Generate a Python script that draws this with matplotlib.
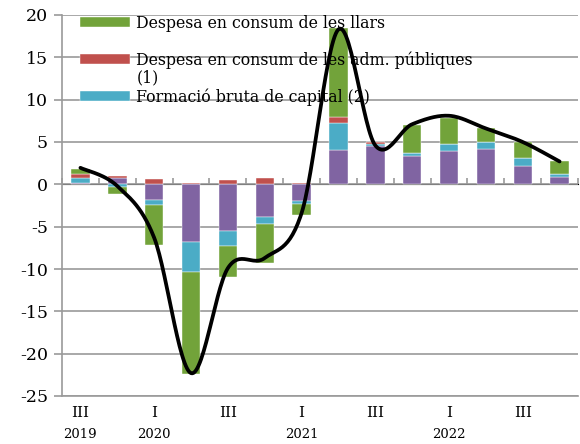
import matplotlib
matplotlib.use("Agg")
import matplotlib.pyplot as plt
import numpy as np

# quarters 2019 III .. 2022 IV
quarter_labels = ["III", "", "I", "", "III", "", "I", "", "III", "", "I", "", "III", ""]
year_labels = {0: "2019", 2: "2020", 6: "2021", 10: "2022"}

# contributions (p.p.)
purple = [0.2, 0.75, -1.8, -6.8, -5.55, -3.8, -2.0, 4.0, 4.5, 3.4, 3.95, 4.15, 2.15, 0.85]
blue = [0.6, -0.35, -0.7, -3.5, -1.7, -0.85, -0.3, 3.2, 0.3, 0.35, 0.8, 0.8, 1.0, 0.4]
red = [0.43, 0.2, 0.6, 0.15, 0.55, 0.8, 0.2, 0.75, 0.2, 0.0, 0.0, 0.0, 0.0, 0.0]
green = [0.6, -0.85, -4.7, -12.1, -3.65, -4.65, -1.3, 10.55, 0.0, 3.25, 3.05, 1.65, 1.8, 1.5]
gdp = [1.95, -0.2, -6.3, -22.3, -9.9, -8.7, -3.4, 18.3, 4.6, 7.1, 8.1, 6.6, 5.0, 2.7]

series = [
    (purple, "#8064A2", None),
    (blue, "#4BACC6", "Formació bruta de capital (2)"),
    (red, "#C0504D", "Despesa en consum de les adm. públiques"),
    (green, "#72A33A", "Despesa en consum de les llars"),
]

GRID = "#9a9a9a"
plt.rcParams["font.family"] = ["DejaVu Serif"]
plt.rcParams["axes.unicode_minus"] = False


def smooth(xs, ys, n=30):
    # excel-like smoothed line (catmull-rom through the points)
    xs = np.asarray(xs, float)
    ys = np.asarray(ys, float)
    px = np.concatenate([[xs[0]], xs, [xs[-1]]])
    py = np.concatenate([[ys[0]], ys, [ys[-1]]])
    out_x, out_y = [], []
    t = np.linspace(0, 1, n)
    for i in range(1, len(px) - 2):
        x0, x1, x2, x3 = px[i - 1:i + 3]
        y0, y1, y2, y3 = py[i - 1:i + 3]
        cx1, cy1 = x1 + (x2 - x0) / 6, y1 + (y2 - y0) / 6
        cx2, cy2 = x2 - (x3 - x1) / 6, y2 - (y3 - y1) / 6
        bx = (1 - t) ** 3 * x1 + 3 * (1 - t) ** 2 * t * cx1 + 3 * (1 - t) * t ** 2 * cx2 + t ** 3 * x2
        by = (1 - t) ** 3 * y1 + 3 * (1 - t) ** 2 * t * cy1 + 3 * (1 - t) * t ** 2 * cy2 + t ** 3 * y2
        out_x.extend(bx)
        out_y.extend(by)
    return out_x, out_y


fig = plt.figure(figsize=(5.8, 4.44), dpi=100)
ax = fig.add_axes([62 / 580, 1 - 396 / 444, 516 / 580, 381 / 444])

x = np.arange(len(gdp))
pos_base = np.zeros(len(x))
neg_base = np.zeros(len(x))
handles = {}
for vals, color, label in series:
    v = np.asarray(vals)
    base = np.where(v >= 0, pos_base, neg_base)
    b = ax.bar(x, v, bottom=base, width=0.5, color=color, edgecolor="white",
               linewidth=0.3, zorder=3)
    if label:
        handles[label] = b
    pos_base += np.where(v >= 0, v, 0)
    neg_base += np.where(v < 0, v, 0)

sx, sy = smooth(x, gdp)
ax.plot(sx, sy, color="black", lw=2.7, zorder=4, solid_capstyle="round")

ax.set_xlim(-0.5, len(x) - 0.5)
ax.set_ylim(-25, 20)
ax.set_yticks(range(-25, 21, 5))
ax.yaxis.grid(True, color=GRID, lw=1.2, zorder=0)
ax.tick_params(axis="y", length=6, color=GRID, width=1.2, labelsize=12.5, pad=4)

for s in ["top", "right"]:
    ax.spines[s].set_visible(False)
ax.spines["left"].set_color(GRID)
ax.spines["left"].set_linewidth(1.2)
ax.spines["bottom"].set_color(GRID)
ax.spines["bottom"].set_linewidth(1.2)

# quarter and year labels under the plot
ax.xaxis.remove_overlapping_locs = False
ax.set_xticks(x)
ax.set_xticklabels(quarter_labels, fontsize=11)
ax.set_xticks(list(year_labels.keys()), minor=True)
ax.set_xticklabels(list(year_labels.values()), minor=True, fontsize=9.5)
ax.tick_params(axis="x", which="major", length=0, pad=7)
ax.tick_params(axis="x", which="minor", length=0, pad=23)

# category ticks on the zero line
zero_pos = (0 - ax.get_ylim()[0]) / (ax.get_ylim()[1] - ax.get_ylim()[0])
sec = ax.secondary_xaxis(zero_pos)
sec.set_xticks(np.arange(-0.5, len(x), 1.0))
sec.set_xticklabels([])
sec.tick_params(axis="x", length=4, color=GRID, width=1.2)
sec.spines["bottom"].set_color(GRID)
sec.spines["bottom"].set_linewidth(1.2)

order = ["Despesa en consum de les llars",
         "Despesa en consum de les adm. públiques",
         "Formació bruta de capital (2)"]
leg = ax.legend([handles[k] for k in order], order, loc="upper left",
                bbox_to_anchor=(0.035, 1.0), frameon=False, fontsize=11.3,
                handlelength=3.2, handleheight=0.6, handletextpad=0.35,
                labelspacing=1.24, borderpad=0, borderaxespad=0)
leg.set_zorder(5)
ax.text(137, 444 - 78, "(1)", transform=None, fontsize=11.3, va="center", ha="left")

fig.savefig("out.png", dpi=100)
